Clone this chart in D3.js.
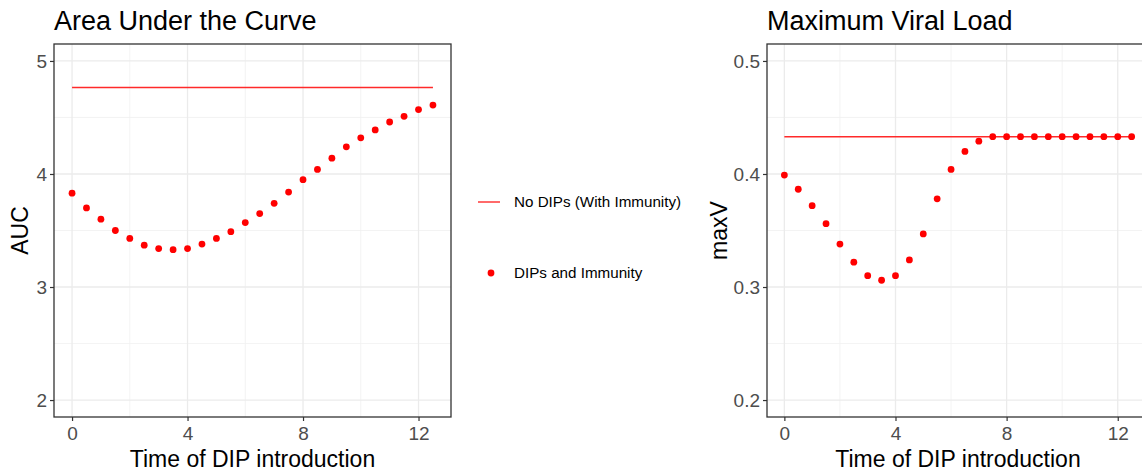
<!DOCTYPE html>
<html>
<head>
<meta charset="utf-8">
<script src="https://cdn.jsdelivr.net/npm/d3@7"></script>
<style>
  body { margin: 0; background: #fff; }
  text { font-family: "Liberation Sans", Arial, sans-serif; }
</style>
</head>
<body>
<svg id="chart" width="1142" height="475"></svg>
<script>
// time of DIP introduction
var times = [0, 0.5, 1, 1.5, 2, 2.5, 3, 3.5, 4, 4.5, 5, 5.5, 6, 6.5, 7, 7.5, 8, 8.5, 9, 9.5, 10, 10.5, 11, 11.5, 12, 12.5];

var aucDips = [3.83, 3.70, 3.60, 3.50, 3.43, 3.37, 3.34, 3.33, 3.34, 3.38, 3.43, 3.49, 3.57, 3.65, 3.74, 3.84,
  3.95, 4.04, 4.14, 4.24, 4.32, 4.39, 4.46, 4.51, 4.57, 4.61];
var aucNoDips = 4.765;

var maxvDips = [0.399, 0.3865, 0.372, 0.356, 0.338, 0.322, 0.310, 0.306, 0.310, 0.324, 0.347, 0.378, 0.404,
  0.420, 0.429, 0.433, 0.433, 0.433, 0.433, 0.433, 0.433, 0.433, 0.433, 0.433, 0.433, 0.433];
var maxvNoDips = 0.433;

var xTicks = [0, 4, 8, 12];
var xMinor = [2, 6, 10];
var aucTicks = [2, 3, 4, 5];
var aucMinor = [2.5, 3.5, 4.5];
var maxvTicks = [0.2, 0.3, 0.4, 0.5];
var maxvMinor = [0.25, 0.35, 0.45];

var legendLabels = ["No DIPs (With Immunity)", "DIPs and Immunity"];

var svg = d3.select("#chart");

function expand(lo, hi) {
  var d = (hi - lo) * 0.05;
  return [lo - d, hi + d];
}

function panel(opt) {
  var g = svg.append("g");
  var x = d3.scaleLinear().domain(expand(0, 12.5)).range([opt.left, opt.right]);
  var y = d3.scaleLinear().domain(expand(opt.yLo, opt.yHi)).range([opt.bottom, opt.top]);

  // grid
  g.selectAll(".gminx").data(xMinor).enter().append("line")
    .attr("x1", x).attr("x2", x).attr("y1", opt.top).attr("y2", opt.bottom)
    .attr("stroke", "#f0f0f0").attr("stroke-width", 0.8);
  g.selectAll(".gminy").data(opt.yMinor).enter().append("line")
    .attr("y1", y).attr("y2", y).attr("x1", opt.left).attr("x2", opt.right)
    .attr("stroke", "#f0f0f0").attr("stroke-width", 0.8);
  g.selectAll(".gx").data(xTicks).enter().append("line")
    .attr("x1", x).attr("x2", x).attr("y1", opt.top).attr("y2", opt.bottom)
    .attr("stroke", "#ebebeb").attr("stroke-width", 1.3);
  g.selectAll(".gy").data(opt.yTicks).enter().append("line")
    .attr("y1", y).attr("y2", y).attr("x1", opt.left).attr("x2", opt.right)
    .attr("stroke", "#ebebeb").attr("stroke-width", 1.3);

  // reference line
  g.append("line")
    .attr("x1", x(0)).attr("x2", x(12.5))
    .attr("y1", y(opt.ref)).attr("y2", y(opt.ref))
    .attr("stroke", "#ff2a2a").attr("stroke-width", 1.4);

  // points
  g.selectAll(".pt").data(opt.values).enter().append("circle")
    .attr("cx", function (d, i) { return x(times[i]); })
    .attr("cy", function (d) { return y(d); })
    .attr("r", 3.4)
    .attr("fill", "#ff0000");

  // border
  g.append("rect")
    .attr("x", opt.left).attr("y", opt.top)
    .attr("width", opt.right - opt.left).attr("height", opt.bottom - opt.top)
    .attr("fill", "none").attr("stroke", "#333").attr("stroke-width", 1.3);

  // axes
  var xa = g.append("g").attr("transform", "translate(0," + opt.bottom + ")")
    .call(d3.axisBottom(x).tickValues(xTicks).tickSize(4).tickPadding(6).tickFormat(d3.format("d")));
  var ya = g.append("g").attr("transform", "translate(" + opt.left + ",0)")
    .call(d3.axisLeft(y).tickValues(opt.yTicks).tickSize(4).tickPadding(3).tickFormat(opt.fmt));
  [xa, ya].forEach(function (a) {
    a.select(".domain").remove();
    a.selectAll(".tick line").attr("stroke", "#333").attr("stroke-width", 1.2);
    a.selectAll(".tick text").attr("fill", "#4d4d4d").style("font-size", "19px")
      .style("font-family", "'Liberation Sans', Arial, sans-serif");
  });

  // titles
  g.append("text").attr("x", opt.left).attr("y", 30)
    .style("font-size", "27px").attr("fill", "#000").text(opt.title);
  g.append("text").attr("x", (opt.left + opt.right) / 2).attr("y", 467)
    .attr("text-anchor", "middle").style("font-size", "23px").attr("fill", "#000")
    .text("Time of DIP introduction");
  g.append("text")
    .attr("transform", "translate(" + opt.ylabX + "," + ((opt.top + opt.bottom) / 2) + ") rotate(-90)")
    .attr("text-anchor", "middle").style("font-size", "23px").attr("fill", "#000")
    .text(opt.ylab);
}

panel({
  left: 54, right: 451, top: 44, bottom: 417,
  yLo: 2, yHi: 5, yTicks: aucTicks, yMinor: aucMinor,
  values: aucDips, ref: aucNoDips, fmt: d3.format("d"),
  title: "Area Under the Curve", ylab: "AUC", ylabX: 28
});

panel({
  left: 767, right: 1149, top: 44, bottom: 417,
  yLo: 0.2, yHi: 0.5, yTicks: maxvTicks, yMinor: maxvMinor,
  values: maxvDips, ref: maxvNoDips, fmt: d3.format(".1f"),
  title: "Maximum Viral Load", ylab: "maxV", ylabX: 727
});

// legend
var leg = svg.append("g");
leg.append("line").attr("x1", 478).attr("x2", 500).attr("y1", 202).attr("y2", 202)
  .attr("stroke", "#ff2a2a").attr("stroke-width", 1.4);
leg.append("circle").attr("cx", 491).attr("cy", 273).attr("r", 3.4).attr("fill", "#ff0000");
leg.selectAll(".lt").data(legendLabels).enter().append("text")
  .attr("x", 514)
  .attr("y", function (d, i) { return i === 0 ? 207 : 278; })
  .style("font-size", "15.2px").attr("fill", "#000")
  .text(function (d) { return d; });
</script>
</body>
</html>
